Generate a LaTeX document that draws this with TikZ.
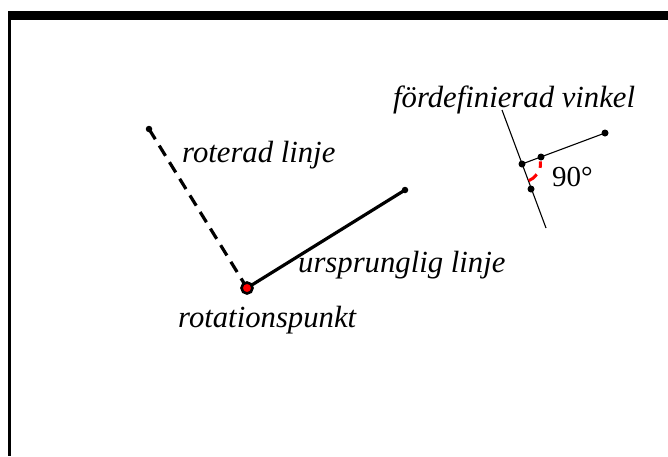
\documentclass[tikz,border=0pt]{standalone}
\usepackage{fontspec}
\setmainfont{Liberation Serif}
\begin{document}
\begin{tikzpicture}[x=1pt,y=-1pt,
  lbl/.style={font=\fontsize{30.7}{36}\selectfont\itshape, anchor=base west, inner sep=0pt},
  numlbl/.style={font=\fontsize{29}{35}\selectfont, anchor=base west, inner sep=0pt},
  dot/.style={circle, fill=black, inner sep=0pt, minimum size=6.5pt},
  smalldot/.style={circle, fill=black, inner sep=0pt, minimum size=7pt},
  segline/.style={line width=3.2pt},
  dashline/.style={line width=3.2pt, dash pattern=on 12pt off 7.5pt},
  thinline/.style={line width=1.1pt},
  angmark/.style={red, line width=3pt},
  pivotdot/.style={circle, fill=red, draw=black, line width=2.6pt, minimum size=11pt, inner sep=0pt}]
\useasboundingbox (0,0) rectangle (668,456);
% frame
\fill[black] (8,11) rectangle (668,20);
\fill[black] (8,11) rectangle (11,456);
% main construction
\coordinate (P) at (247,288);
\coordinate (A) at (405,190);
\coordinate (B) at (149,129);
\draw[segline] (P) -- (A);
\draw[dashline] (B) -- (P);
\node[dot] (Adot) at (A) {};
\node[dot] (Bdot) at (B) {};
\node[pivotdot] (Pdot) at (P) {};
% angle construction
\coordinate (V) at (522,164);
\coordinate (U) at (541,157);
\coordinate (W) at (531,189);
\coordinate (F) at (605,133);
\coordinate (Ltop) at (502,110);
\coordinate (Lbot) at (546,228);
\draw[thinline] (Ltop) -- (Lbot);
\draw[thinline] (V) -- (F);
\draw[angmark] ([shift={(-8:18.5)}]V) arc[start angle=-8, end angle=12, radius=18.5];
\draw[angmark] ([shift={(35:18)}]V) arc[start angle=35, end angle=68, radius=18];
\node[smalldot] (Vdot) at (V) {};
\node[smalldot] (Udot) at (U) {};
\node[smalldot] (Wdot) at (W) {};
\node[smalldot] (Fdot) at (F) {};
% labels
\node[lbl] (t1) at (393,107) {fördefinierad vinkel};
\node[lbl] (t2) at (182,162) {roterad linje};
\node[lbl] (t3) at (298,272) {ursprunglig linje};
\node[lbl] (t4) at (178,327) {rotationspunkt};
\node[numlbl] (t5) at (552,186) {90°};
\end{tikzpicture}
\end{document}
